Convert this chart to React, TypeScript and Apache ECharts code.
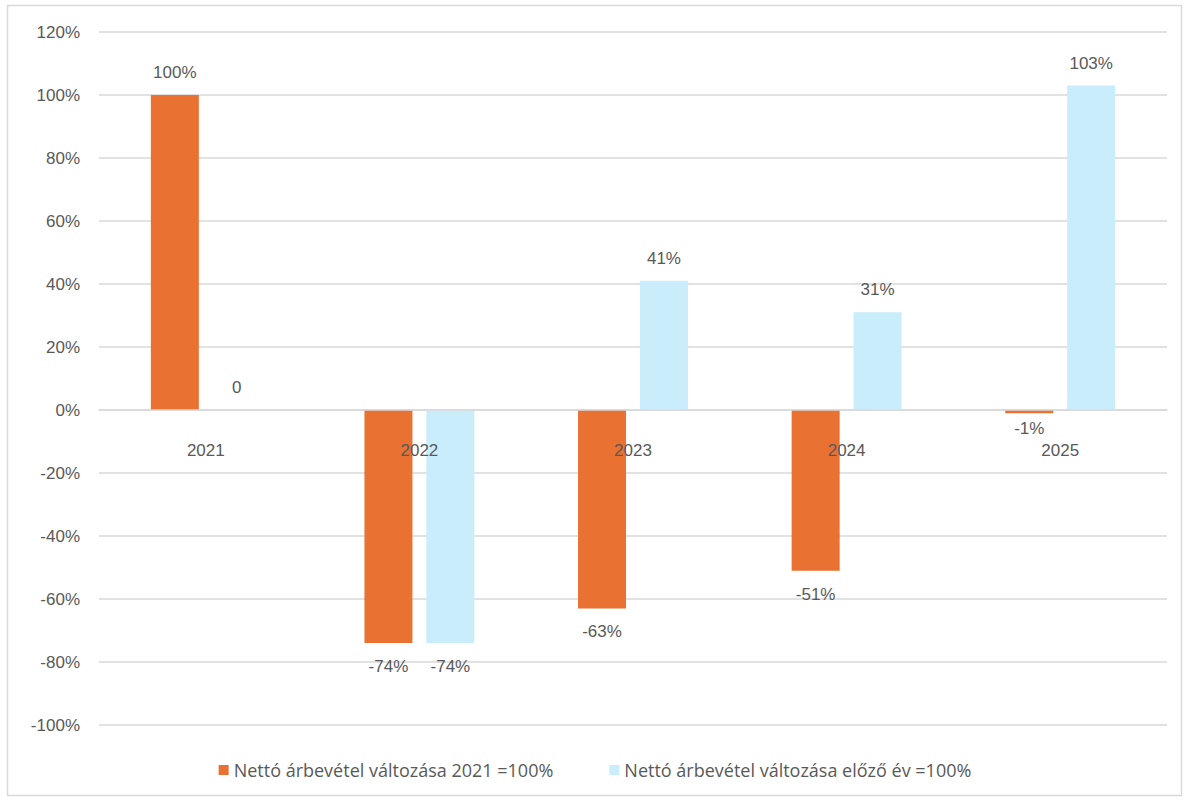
import React, { useEffect, useRef } from "react";
import * as echarts from "echarts";

const categories = ["2021", "2022", "2023", "2024", "2025"];
const seriesNames = [
  "Nettó árbevétel változása 2021 =100%",
  "Nettó árbevétel változása előző év =100%",
];
const base2021 = [100, -74, -63, -51, -1];
const prevYear = [0, -74, 41, 31, 103];
const colors = ["#E97132", "#CAEDFB"];

const fmt = (v: number) => (v === 0 ? "0" : `${v}%`);

function makeData(values: number[]) {
  return values.map((v) => ({
    value: v,
    label: {
      position: v < 0 ? "bottom" : "top",
      distance: v < 0 ? (v > -5 ? 7 : 15) : 14,
    },
  }));
}

export default function App() {
  const ref = useRef<HTMLDivElement>(null);
  useEffect(() => {
    document.body.style.margin = "0";
    const chart = echarts.init(ref.current!, null, { renderer: "svg" });
    const font = "Liberation Sans, Arial, sans-serif";
    const labelStyle = {
      show: true,
      color: "#595959",
      fontSize: 17,
      fontFamily: font,
      formatter: (p: any) => fmt(p.value),
    };
    chart.setOption({
      animation: false,
      backgroundColor: "#ffffff",
      graphic: [
        {
          type: "rect",
          shape: { x: 7.5, y: 5.5, width: 1174, height: 790 },
          style: { fill: "none", stroke: "#d9d9d9", lineWidth: 1.5 },
          silent: true,
        },
      ],
      grid: { left: 99, right: 23, top: 32, bottom: 76, containLabel: false },
      legend: {
        bottom: 17,
        left: "center",
        itemWidth: 10,
        itemHeight: 10,
        itemGap: 56,
        icon: "rect",
        textStyle: {
          color: "#595959",
          fontSize: 18,
          fontFamily: "Open Sans, sans-serif",
        },
        data: seriesNames,
      },
      xAxis: {
        type: "category",
        data: categories,
        offset: -315,
        z: 10,
        axisLine: { onZero: false, lineStyle: { color: "#d9d9d9", width: 1.5 } },
        axisTick: { show: false },
        axisLabel: {
          color: "#595959",
          fontSize: 17,
          margin: 32,
          fontFamily: font,
        },
      },
      yAxis: {
        type: "value",
        min: -100,
        max: 120,
        interval: 20,
        axisLine: { show: false },
        axisTick: { show: false },
        splitLine: { lineStyle: { color: "#d9d9d9", width: 1.5 } },
        axisLabel: {
          color: "#595959",
          fontSize: 17,
          margin: 19,
          fontFamily: font,
          formatter: (v: number) => `${v}%`,
        },
      },
      series: [
        {
          name: seriesNames[0],
          type: "bar",
          data: makeData(base2021),
          barWidth: 48,
          barGap: "29%",
          itemStyle: { color: colors[0] },
          label: labelStyle,
        },
        {
          name: seriesNames[1],
          type: "bar",
          data: makeData(prevYear),
          barWidth: 48,
          barGap: "29%",
          itemStyle: { color: colors[1] },
          label: labelStyle,
        },
      ],
    });
    return () => chart.dispose();
  }, []);
  return <div ref={ref} style={{ width: 1190, height: 801 }} />;
}
